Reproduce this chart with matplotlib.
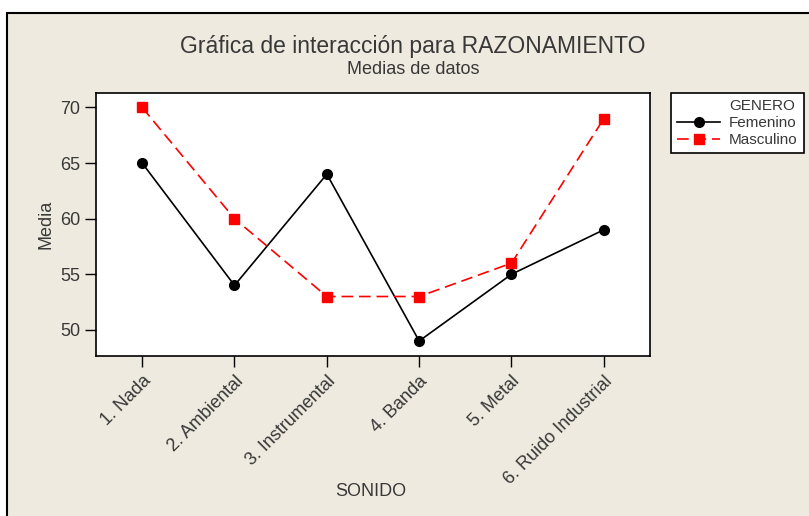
import matplotlib
matplotlib.use("Agg")
from matplotlib import pyplot as plt
from matplotlib.patches import Rectangle

plt.rcParams['font.family'] = ['Liberation Sans', 'DejaVu Sans']

sonido = ["1. Nada", "2. Ambiental", "3. Instrumental", "4. Banda",
          "5. Metal", "6. Ruido Industrial"]
femenino = [65, 54, 64, 49, 55, 59]
masculino = [70, 60, 53, 53, 56, 69]
y_ticks = [50, 55, 60, 65, 70]

txt = "#383838"
fondo = "#EEEAE0"

fig = plt.figure(figsize=(8.09, 5.16), dpi=100, facecolor="white")
# marco del grafico
fig.patches.append(Rectangle((7 / 809, -0.01), 1.0, 1 - 13 / 516 + 0.01,
                             transform=fig.transFigure, facecolor=fondo,
                             edgecolor="black", lw=1.5, zorder=-1))

ax = fig.add_axes([96 / 809, 1 - 356 / 516, 554 / 809, 263 / 516])
x = list(range(1, len(sonido) + 1))
# entrada vacia para el encabezado de la leyenda
ax.plot([], [], ' ', label="GENERO")
ax.plot(x, femenino, '-o', color="black", lw=1.2, markersize=7,
        label="Femenino")
ax.plot(x, masculino, '--s', color="red", lw=1.2, markersize=7,
        dashes=(7, 3.5), label="Masculino")

ax.set_xlim(0.5, 6.5)
ax.set_ylim(47.65, 71.3)
ax.set_yticks(y_ticks)
ax.set_xticks(x)
ax.set_xticklabels(sonido, rotation=45, ha="right", rotation_mode="anchor",
                   fontsize=13, color=txt)
ax.tick_params(axis="y", labelsize=13, labelcolor=txt, length=8, width=1)
ax.tick_params(axis="x", length=8, width=1, pad=4)
for s in ax.spines.values():
    s.set_linewidth(1.2)

ax.set_ylabel("Media", fontsize=13, color=txt, labelpad=4)
fig.text(371 / 809, 1 - 492 / 516, "SONIDO", fontsize=13, color=txt,
         ha="center", va="center")

fig.text(413 / 809, 1 - 46 / 516, "Gráfica de interacción para RAZONAMIENTO",
         fontsize=16.5, color=txt, ha="center", va="center")
fig.text(413 / 809, 1 - 69 / 516, "Medias de datos", fontsize=13, color=txt,
         ha="center", va="center")

leg = ax.legend(loc="upper left",
                bbox_to_anchor=(671 / 809, 1 - 93 / 516),
                bbox_transform=fig.transFigure, fontsize=11,
                fancybox=False, edgecolor="black",
                framealpha=1, borderaxespad=0, handlelength=2.8,
                handletextpad=0.6, borderpad=0.4, labelspacing=0.2)
leg.get_frame().set_linewidth(1.2)
for t in leg.get_texts():
    t.set_color(txt)

fig.savefig("out.png", dpi=100, facecolor=fig.get_facecolor())
